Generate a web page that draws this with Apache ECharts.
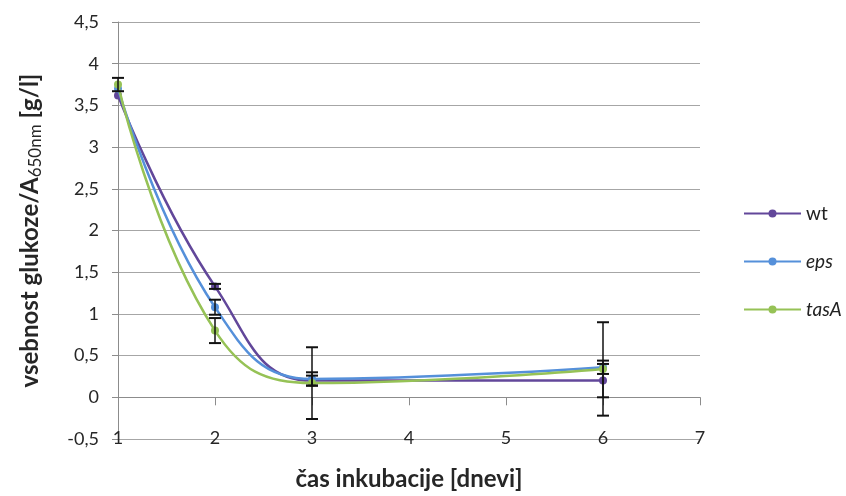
<!DOCTYPE html>
<html>
<head>
<meta charset="utf-8">
<script src="https://cdn.jsdelivr.net/npm/echarts@6/dist/echarts.min.js"></script>
<style>html,body{margin:0;padding:0;background:#fff;}#c{width:846px;height:496px;}</style>
</head>
<body>
<div id="c"></div>
<script>
const days = [1, 2, 3, 6];
const seriesNames = ['wt', 'eps', 'tasA'];
const wt = [3.62, 1.33, 0.20, 0.20];
const eps = [3.70, 1.08, 0.22, 0.36];
const tasA = [3.75, 0.80, 0.17, 0.34];
const wtErr = [0.00, 0.03, 0.06, 0.20];
const epsErr = [0.00, 0.09, 0.08, 0.08];
const tasAErr = [0.08, 0.15, 0.43, 0.56];
const yTicks = { min: -0.5, max: 4.5, step: 0.5 };
const xTicks = { min: 1, max: 7, step: 1 };

const colors = ['#62479A', '#5590DA', '#96C256'];
const values = [wt, eps, tasA];
const errs = [wtErr, epsErr, tasAErr];
const font = 'Lato, "Open Sans", sans-serif';

const lineSeries = seriesNames.map((n, i) => ({
  name: n,
  type: 'line',
  smooth: 0.45,
  data: days.map((d, k) => [d, values[i][k]]),
  symbol: 'circle',
  symbolSize: 8,
  color: colors[i],
  lineStyle: { width: 2.5, color: colors[i] },
  itemStyle: { color: colors[i] },
  xAxisIndex: 0,
  z: 2 + i
}));

const errData = [];
seriesNames.forEach((n, i) => {
  days.forEach((d, k) => errData.push([d, values[i][k], errs[i][k]]));
});

const errSeries = {
  type: 'custom',
  xAxisIndex: 0,
  z: 10,
  data: errData,
  renderItem: function (params, api) {
    const x = api.value(0), y = api.value(1), e = api.value(2);
    if (!(e > 0)) return { type: 'group', children: [] };
    const top = api.coord([x, y + e]);
    const bot = api.coord([x, y - e]);
    const hw = 6;
    const style = { stroke: '#111', lineWidth: 1.5 };
    return {
      type: 'group',
      children: [
        { type: 'line', shape: { x1: top[0], y1: top[1], x2: bot[0], y2: bot[1] }, style: style },
        { type: 'line', shape: { x1: top[0] - hw, y1: top[1], x2: top[0] + hw, y2: top[1] }, style: { stroke: '#111', lineWidth: 2 } },
        { type: 'line', shape: { x1: bot[0] - hw, y1: bot[1], x2: bot[0] + hw, y2: bot[1] }, style: { stroke: '#111', lineWidth: 2 } }
      ]
    };
  }
};

const chart = echarts.init(document.getElementById('c'), null, { renderer: 'canvas' });
chart.setOption({
  animation: false,
  backgroundColor: '#fff',
  grid: { left: 118, right: 146, top: 22, bottom: 54, containLabel: false },
  legend: {
    data: seriesNames,
    orient: 'vertical',
    left: 743,
    top: 204,
    padding: 0,
    itemWidth: 57,
    itemHeight: 10,
    itemGap: 29,
    textStyle: {
      fontFamily: font, fontSize: 19, color: '#222',
      rich: { i: { fontFamily: font, fontSize: 19, fontStyle: 'italic', color: '#222' } }
    },
    formatter: function (n) { return n === 'wt' ? n : '{i|' + n + '}'; }
  },
  xAxis: [
    {
      type: 'value', min: xTicks.min, max: xTicks.max, interval: xTicks.step,
      axisLine: { show: true, onZero: true, lineStyle: { color: '#8c8c8c', width: 1 } },
      axisTick: { show: true, length: 8, lineStyle: { color: '#8c8c8c' } },
      axisLabel: { show: false },
      splitLine: { show: false }
    },
    {
      type: 'value', min: xTicks.min, max: xTicks.max, interval: xTicks.step,
      position: 'bottom',
      axisLine: { show: false, onZero: false },
      axisTick: { show: false },
      splitLine: { show: false },
      axisLabel: { margin: -10, fontFamily: font, fontSize: 18, color: '#262626' },
      name: 'čas inkubacije [dnevi]',
      nameLocation: 'middle',
      nameGap: 28,
      nameTextStyle: { fontFamily: font, fontSize: 24, fontWeight: 'bold', color: '#262626' }
    }
  ],
  yAxis: {
    type: 'value', min: yTicks.min, max: yTicks.max, interval: yTicks.step,
    axisLine: { show: true, lineStyle: { color: '#8c8c8c', width: 1 } },
    axisTick: { show: true, length: 6, lineStyle: { color: '#8c8c8c' } },
    splitLine: { show: true, showMinLine: true, showMaxLine: true, lineStyle: { color: '#a6a6a6', width: 1 } },
    axisLabel: {
      margin: 19, fontFamily: font, fontSize: 18, color: '#262626',
      formatter: function (v) { return String(Math.round(v * 10) / 10).replace('.', ','); }
    },
    name: '{m|vsebnost glukoze/A}{s|650nm}{m| [g/l]}',
    nameLocation: 'middle',
    nameRotate: 90,
    nameGap: 74,
    nameTextStyle: {
      rich: {
        m: { fontFamily: font, fontSize: 24, fontWeight: 'bold', color: '#262626', lineHeight: 28 },
        s: { fontFamily: font, fontSize: 17, fontWeight: 'normal', color: '#262626', lineHeight: 10, verticalAlign: 'bottom' }
      }
    }
  },
  series: lineSeries.concat([errSeries])
});
</script>
</body>
</html>
